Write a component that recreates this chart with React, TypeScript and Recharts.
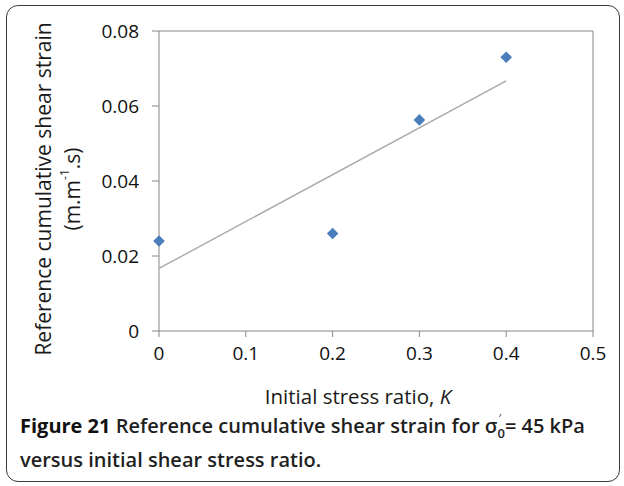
import React from "react";
import {
  ReferenceLine,
  Scatter,
  ScatterChart,
  XAxis,
  YAxis,
} from "recharts";

const kValues = [0, 0.2, 0.3, 0.4];
const strainValues = [0.024, 0.026, 0.0563, 0.073];
const xTicks = [0, 0.1, 0.2, 0.3, 0.4, 0.5];
const yTicks = [0, 0.02, 0.04, 0.06, 0.08];

const FONT = "'Open Sans', 'Liberation Sans', sans-serif";
const AXIS_GREY = "#868686";
const MARKER_BLUE = "#4a7ebb";

const points = kValues.map((k, i) => ({ k, strain: strainValues[i] }));

// least-squares linear trendline through the measured points
function linearFit(xs: number[], ys: number[]) {
  const n = xs.length;
  const mx = xs.reduce((a, b) => a + b, 0) / n;
  const my = ys.reduce((a, b) => a + b, 0) / n;
  let sxy = 0;
  let sxx = 0;
  xs.forEach((x, i) => {
    sxy += (x - mx) * (ys[i] - my);
    sxx += (x - mx) * (x - mx);
  });
  const slope = sxy / sxx;
  return { slope, intercept: my - slope * mx };
}

const fit = linearFit(kValues, strainValues);
const trendK = [kValues[0], kValues[kValues.length - 1]];
const trend = trendK.map((k) => ({ k, strain: fit.intercept + fit.slope * k }));

const Diamond = (props: any) => {
  const { cx, cy } = props;
  const r = 5.8;
  return (
    <polygon
      points={`${cx},${cy - r} ${cx + r},${cy} ${cx},${cy + r} ${cx - r},${cy}`}
      fill={MARKER_BLUE}
    />
  );
};

const YTitle = (props: any) => {
  const vb = props.viewBox || { x: 0, y: 0, width: 0, height: 0 };
  const cy = vb.y + vb.height / 2 + 8;
  return (
    <g fontFamily={FONT} fontSize={21} fill="#1a1a1a">
      <text
        x={43}
        y={cy}
        textAnchor="middle"
        dominantBaseline="central"
        transform={`rotate(-90, 43, ${cy})`}
      >
        Reference cumulative shear strain
      </text>
      <text
        x={72}
        y={cy}
        textAnchor="middle"
        dominantBaseline="central"
        transform={`rotate(-90, 72, ${cy})`}
      >
        (m.m
        <tspan fontSize={12} dy={-8}>
          -1
        </tspan>
        <tspan dy={8}>.s)</tspan>
      </text>
    </g>
  );
};

const XTitle = (props: any) => {
  const vb = props.viewBox || { x: 0, y: 0, width: 0, height: 0 };
  const cx = vb.x + vb.width / 2 - 18;
  return (
    <text
      x={cx}
      y={396}
      textAnchor="middle"
      dominantBaseline="central"
      fontFamily={FONT}
      fontSize={20.5}
      fill="#1a1a1a"
    >
      Initial stress ratio, <tspan fontStyle="italic">K</tspan>
    </text>
  );
};

const tickStyle = { fill: "#111", fontSize: 19, fontFamily: FONT };

export default function App() {
  return (
    <div
      style={{
        position: "absolute",
        left: 0,
        top: 0,
        width: 624,
        height: 486,
        background: "#fff",
        fontFamily: FONT,
      }}
    >
      <div
        style={{
          position: "absolute",
          left: 6,
          top: 5,
          width: 612,
          height: 475,
          border: "1.5px solid #3a3a3a",
          borderRadius: 12,
        }}
      />
      <ScatterChart
        width={624}
        height={486}
        margin={{ top: 31, right: 31, bottom: 115, left: 79 }}
        style={{ position: "absolute", left: 0, top: 0 }}
      >
        <XAxis
          type="number"
          dataKey="k"
          domain={[0, 0.5]}
          ticks={xTicks}
          height={40}
          stroke={AXIS_GREY}
          tickSize={6}
          tickMargin={10}
          tick={tickStyle}
          label={<XTitle />}
        />
        <YAxis
          type="number"
          dataKey="strain"
          domain={[0, 0.08]}
          ticks={yTicks}
          width={80}
          stroke={AXIS_GREY}
          tickSize={7}
          tickMargin={13}
          tick={tickStyle}
          label={<YTitle />}
        />
        <ReferenceLine y={0.08} stroke={AXIS_GREY} />
        <ReferenceLine x={0.5} stroke={AXIS_GREY} />
        <Scatter
          data={trend}
          line={{ stroke: "#a9a9a9", strokeWidth: 1.4 }}
          shape={() => <g />}
          isAnimationActive={false}
        />
        <Scatter
          data={points}
          shape={<Diamond />}
          isAnimationActive={false}
        />
      </ScatterChart>
      <div
        style={{
          position: "absolute",
          left: 20,
          top: 410,
          width: 600,
          fontSize: 20,
          lineHeight: "31px",
          color: "#1f1f1f",
          fontWeight: 600,
          whiteSpace: "nowrap",
        }}
      >
        <span style={{ fontWeight: 700, color: "#111" }}>Figure 21</span>{" "}
        Reference cumulative shear strain for σ
        {/* prime sits above the subscript zero */}
        <span style={{ position: "relative", display: "inline-block" }}>
          <span style={{ position: "relative", top: 5, fontSize: 13 }}>0</span>
          <span
            style={{
              position: "absolute",
              left: 1,
              top: -8,
              fontSize: 11,
              fontWeight: 400,
            }}
          >
            ′
          </span>
        </span>
        = 45 kPa
        <br />
        versus initial shear stress ratio.
      </div>
    </div>
  );
}
